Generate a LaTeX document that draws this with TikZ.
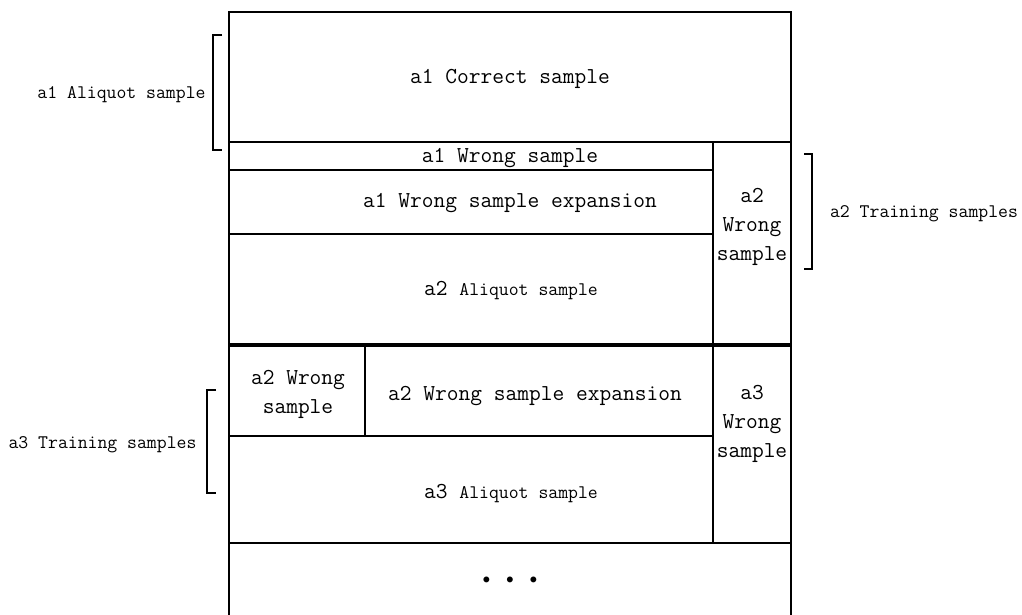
\documentclass[tikz,border=0pt]{standalone}
\usepackage{fontspec}
\begin{document}
\begin{tikzpicture}[x=1pt,y=-1pt,
  grid/.style={line width=1.6pt},
  heavy/.style={line width=3.4pt},
  brk/.style={line width=1.6pt},
  big/.style={font=\ttfamily\fontsize{22.8}{29}\selectfont, align=center, inner sep=0pt},
  small/.style={font=\ttfamily\fontsize{19.2}{24}\selectfont, inner sep=0pt}]
\useasboundingbox (0,0) rectangle (1022,614);
\fill[white] (0,0) rectangle (1022,614);
% table frame and cell borders
\draw[grid] (229,616) -- (229,12) -- (791,12) -- (791,616);
\draw[grid] (229,142) -- (791,142);
\draw[grid] (713,142) -- (713,543);
\draw[grid] (229,170) -- (713,170);
\draw[grid] (229,234) -- (713,234);
\draw[heavy] (229,345) -- (791,345);
\draw[grid] (365,345) -- (365,436);
\draw[grid] (229,436) -- (713,436);
\draw[grid] (229,543) -- (791,543);
% cell texts
\node[big] (c1) at (510,79) {a1 Correct sample};
\node[big] (w1) at (510,158) {a1 Wrong sample};
\node[big] (e1) at (510,203) {a1 Wrong sample expansion};
\node[big] (q2) at (511,291) {a2 {\fontsize{19.2}{24}\selectfont Aliquot sample}};
\node[big] (w2) at (752,227) {a2\\Wrong\\sample};
\node[big] (w2b) at (298,394) {a2 Wrong\\sample};
\node[big] (e2) at (535,396) {a2 Wrong sample expansion};
\node[big] (w3) at (752,424) {a3\\Wrong\\sample};
\node[big] (q3) at (511,494) {a3 {\fontsize{19.2}{24}\selectfont Aliquot sample}};
\node[big] (more) at (510,581) {\textbullet\ \textbullet\ \textbullet};
% side labels with brackets
\node[small] (l1) at (121.5,95) {a1 Aliquot sample};
\draw[brk] (222,35) -- (213,35) -- (213,150) -- (222,150);
\node[small] (l2) at (924,214) {a2 Training samples};
\draw[brk] (804,154) -- (812,154) -- (812,269) -- (804,269);
\node[small] (l3) at (102.5,445) {a3 Training samples};
\draw[brk] (216,390) -- (207,390) -- (207,493) -- (216,493);
\end{tikzpicture}
\end{document}
